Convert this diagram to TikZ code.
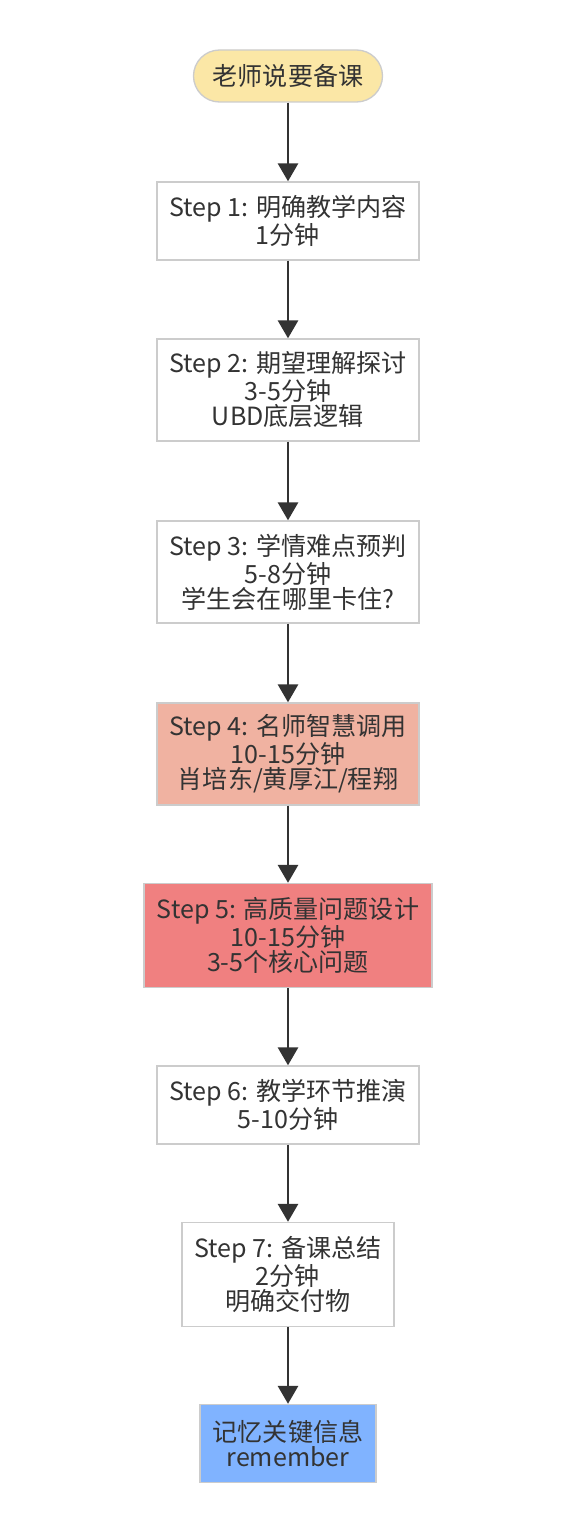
\documentclass[tikz,border=0pt]{standalone}
\usepackage{fontspec}
\setmainfont{Noto Sans CJK SC}
\usepackage{tikz}
\usetikzlibrary{arrows.meta,positioning}
\definecolor{ink}{HTML}{333333}
\definecolor{rim}{HTML}{CCCCCC}
\definecolor{sand}{HTML}{FBE7A6}
\definecolor{peach}{HTML}{F0B2A1}
\definecolor{coral}{HTML}{F08080}
\definecolor{sky}{HTML}{80B3FF}

\begin{document}
\begin{tikzpicture}[x=0.75pt,y=-0.75pt,
  font=\fontsize{18.8pt}{18.8pt}\selectfont,
  stepbox/.style={rectangle,draw=rim,line width=1pt,fill=white,text=ink,
    align=center,inner sep=0pt,minimum width=196.5pt,minimum height=76.5pt},
  flow/.style={draw=ink,line width=2.2pt,-{Triangle[length=13.5pt,width=15pt]}}]
  \useasboundingbox (0,0) rectangle (582,1540);
  % start and end
  \node[stepbox,fill=sand,rounded corners=19.5pt,minimum width=141.75pt,minimum height=39pt] (start) at (288,76) {老师说要备课};
  % steps
  \node[stepbox,minimum height=58.5pt] (s1) at (288,221) {Step 1: 明确教学内容\\1分钟};
  \node[stepbox] (s2) at (288,390) {Step 2: 期望理解探讨\\3-5分钟\\UBD底层逻辑};
  \node[stepbox] (s3) at (288,572) {Step 3: 学情难点预判\\5-8分钟\\学生会在哪里卡住?};
  \node[stepbox,fill=peach] (s4) at (288,754) {Step 4: 名师智慧调用\\10-15分钟\\肖培东/黄厚江/程翔};
  \node[stepbox,fill=coral,minimum width=216pt,minimum height=78pt] (s5) at (288,935.5) {Step 5: 高质量问题设计\\10-15分钟\\3-5个核心问题};
  \node[stepbox,minimum height=58.5pt] (s6) at (288,1105) {Step 6: 教学环节推演\\5-10分钟};
  \node[stepbox,minimum width=159pt,minimum height=78pt] (s7) at (288,1274.5) {Step 7: 备课总结\\2分钟\\明确交付物};
  \node[stepbox,fill=sky,minimum width=132pt,minimum height=58.5pt] (finish) at (288,1443.5) {记忆关键信息\\remember};
  \draw[flow] (start) -- (s1);
  \draw[flow] (s1) -- (s2);
  \draw[flow] (s2) -- (s3);
  \draw[flow] (s3) -- (s4);
  \draw[flow] (s4) -- (s5);
  \draw[flow] (s5) -- (s6);
  \draw[flow] (s6) -- (s7);
  \draw[flow] (s7) -- (finish);
\end{tikzpicture}
\end{document}
